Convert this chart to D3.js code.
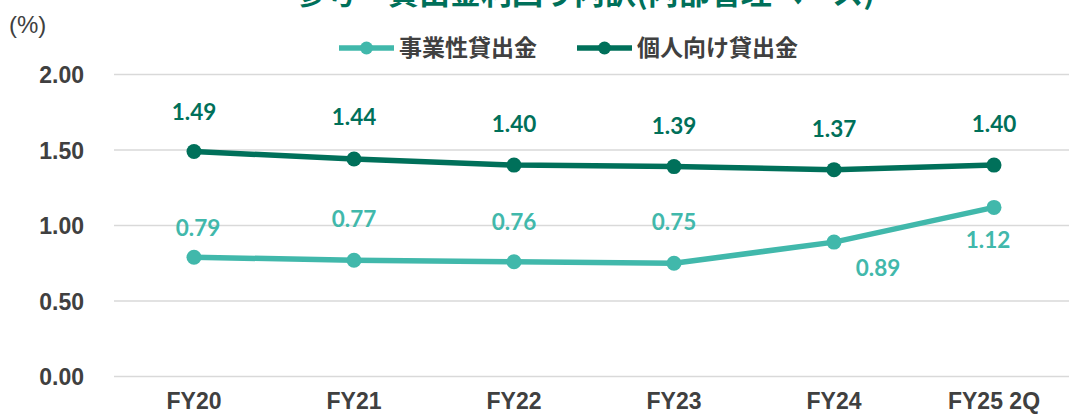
<!DOCTYPE html>
<meta charset='utf-8'>
<style>
  body { margin: 0; background: #fff; }
  .grid line { stroke: #d9d9d9; stroke-width: 1.5px; }
  .axis text { font-family: "Liberation Sans", Arial, sans-serif; font-weight: bold; fill: #404040; }
  .lbl { font-family: Lato, "Open Sans", sans-serif; font-weight: bold; font-size: 22.5px; text-anchor: middle; }
</style>
<div id="chart"></div>
<script src="https://d3js.org/d3.v7.min.js"></script>
<script>
var categories = ["FY20", "FY21", "FY22", "FY23", "FY24", "FY25 2Q"];
var businessLoans = [0.79, 0.77, 0.76, 0.75, 0.89, 1.12];   // 事業性貸出金
var personalLoans = [1.49, 1.44, 1.40, 1.39, 1.37, 1.40];   // 個人向け貸出金
var yTicks = [0, 0.5, 1.0, 1.5, 2.0];
var seriesNames = ["事業性貸出金", "個人向け貸出金"];

var width = 1069, height = 417;
var teal = "#41b8ab", dark = "#00705a";

var svg = d3.select("#chart").append("svg")
    .attr("width", width)
    .attr("height", height);

var x = d3.scaleBand().domain(categories).range([114, 1074]);
var y = d3.scaleLinear().domain([0, 2]).range([376.5, 74.5]);

// gridlines
svg.append("g").attr("class", "grid")
  .selectAll("line").data(yTicks).enter().append("line")
    .attr("x1", 114).attr("x2", 1074)
    .attr("y1", function(d) { return y(d); })
    .attr("y2", function(d) { return y(d); });

// y axis labels
var yAxis = d3.axisLeft(y).tickValues(yTicks).tickFormat(d3.format(".2f")).tickSize(0).tickPadding(0);
svg.append("g").attr("class", "axis")
    .attr("transform", "translate(84,0)")
    .call(yAxis)
    .call(function(g) { g.select(".domain").remove(); })
    .selectAll("text").attr("font-size", 23).attr("dy", "0.36em");

// x axis labels
var xAxis = d3.axisBottom(x).tickSize(0).tickPadding(0);
svg.append("g").attr("class", "axis")
    .attr("transform", "translate(0,392)")
    .call(xAxis)
    .call(function(g) { g.select(".domain").remove(); })
    .selectAll("text").attr("font-size", 23).attr("dy", "0.75em");

var cx = function(d, i) { return x(categories[i]) + x.bandwidth() / 2; };
var line = d3.line().x(cx).y(function(d) { return y(d); });

function drawSeries(vals, color, dxs, dys) {
  svg.append("path").datum(vals)
    .attr("d", line)
    .attr("fill", "none")
    .attr("stroke", color)
    .attr("stroke-width", 5.5)
    .attr("stroke-linejoin", "round");
  svg.append("g").selectAll("circle").data(vals).enter().append("circle")
    .attr("cx", cx)
    .attr("cy", function(d) { return y(d); })
    .attr("r", 7.5)
    .attr("fill", color);
  svg.append("g").selectAll("text").data(vals).enter().append("text")
    .attr("class", "lbl")
    .attr("x", function(d, i) { return cx(d, i) + dxs[i]; })
    .attr("y", function(d, i) { return y(d) + dys[i]; })
    .attr("fill", color)
    .text(function(d) { return d.toFixed(2); });
}

// label offsets relative to each point
drawSeries(businessLoans, teal, [4, 0, 0, 0, 44, -6], [-21, -33, -32, -33, 34, 41]);
drawSeries(personalLoans, dark, [0, 0, 0, 0, 0, 0], [-32, -34, -33, -33, -33, -33]);

// title (cut off at the top in the original)
svg.append("text")
    .attr("x", 585).attr("y", 4)
    .attr("text-anchor", "middle")
    .attr("font-family", "'Noto Sans CJK JP', sans-serif")
    .attr("font-weight", "bold")
    .attr("font-size", 31)
    .attr("fill", dark)
    .text("参考・貸出金利回り内訳(内部管理ベース)");

svg.append("text")
    .attr("x", 9).attr("y", 33)
    .attr("font-family", "'Liberation Sans', Arial, sans-serif")
    .attr("font-size", 24)
    .attr("fill", "#404040")
    .text("(%)");

// legend
var legend = svg.append("g").attr("transform", "translate(0,48)");
var legItems = [{ name: seriesNames[0], color: teal, x: 339 }, { name: seriesNames[1], color: dark, x: 577 }];
var li = legend.selectAll("g").data(legItems).enter().append("g")
    .attr("transform", function(d) { return "translate(" + d.x + ",0)"; });
li.append("line").attr("x1", 0).attr("x2", 55).attr("stroke", function(d) { return d.color; }).attr("stroke-width", 5.5);
li.append("circle").attr("cx", 27.5).attr("r", 6.5).attr("fill", function(d) { return d.color; });
li.append("text")
    .attr("x", 60).attr("dy", "0.36em")
    .attr("font-family", "'Noto Sans CJK JP', sans-serif")
    .attr("font-weight", "bold")
    .attr("font-size", 23)
    .attr("fill", "#404040")
    .text(function(d) { return d.name; });
</script>
